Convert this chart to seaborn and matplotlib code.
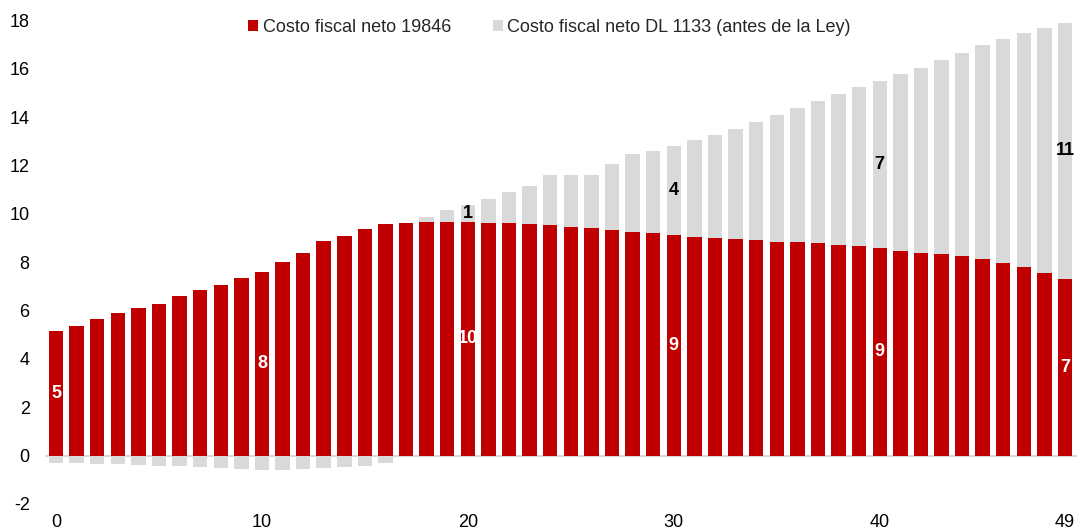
import numpy as np
import pandas as pd
import matplotlib
matplotlib.use("Agg")
import matplotlib.pyplot as plt
from matplotlib.patches import Patch
import seaborn as sns

# ---- data ----
years = list(range(50))
costo_19846 = [5.16, 5.36, 5.67, 5.88, 6.12, 6.29, 6.59, 6.83, 7.07, 7.36,
               7.58, 8.02, 8.36, 8.88, 9.07, 9.37, 9.60, 9.64, 9.65, 9.67,
               9.65, 9.64, 9.61, 9.57, 9.53, 9.46, 9.40, 9.33, 9.25, 9.19,
               9.12, 9.05, 8.99, 8.94, 8.90, 8.85, 8.82, 8.80, 8.73, 8.66,
               8.58, 8.48, 8.40, 8.32, 8.25, 8.12, 7.96, 7.79, 7.56, 7.32]
# grey segment (DL 1133 minus 19846), stacked on the red bars
dif_dl1133 = [-0.29, -0.32, -0.34, -0.36, -0.40, -0.43, -0.44, -0.48, -0.51, -0.55,
              -0.58, -0.59, -0.56, -0.51, -0.48, -0.44, -0.30, 0.00, 0.24, 0.47,
              0.71, 0.97, 1.31, 1.59, 2.06, 2.13, 2.20, 2.72, 3.21, 3.42,
              3.70, 3.99, 4.28, 4.56, 4.90, 5.22, 5.55, 5.86, 6.22, 6.57,
              6.92, 7.30, 7.65, 8.04, 8.42, 8.87, 9.28, 9.70, 10.13, 10.59]
label_idx_red = [0, 10, 20, 30, 40, 49]
label_idx_grey = [20, 30, 40, 49]
xtick_labels = ["0", "10", "20", "30", "40", "49"]
ytick_values = [-2, 0, 2, 4, 6, 8, 10, 12, 14, 16, 18]
series_names = ["Costo fiscal neto 19846", "Costo fiscal neto DL 1133 (antes de la Ley)"]

RED = "#C00000"
GREY = "#D9D9D9"
FS = 13

sns.set_theme(style="white")
plt.rcParams["font.family"] = ["Liberation Sans", "DejaVu Sans"]

red = np.array(costo_19846)
dif = np.array(dif_dl1133)
grey_top = np.where(dif > 0, red + dif, dif)

df = pd.DataFrame({"year": years, "red": red, "grey": grey_top})

fig = plt.figure(figsize=(10.77, 5.31), dpi=100)
ax = fig.add_axes([45 / 1077, 1 - 503.9 / 531, 1 - 45 / 1077, (503.9 - 20.5) / 531])

sns.barplot(data=df, x="year", y="grey", color=GREY, saturation=1, width=0.7,
            linewidth=0, ax=ax, native_scale=False)
sns.barplot(data=df, x="year", y="red", color=RED, saturation=1, width=0.7,
            linewidth=0, ax=ax, native_scale=False)

ax.axhline(0, color=GREY, lw=1.5, zorder=0.5)

for i in label_idx_red:
    ax.text(i, red[i] / 2, f"{red[i]:.0f}", ha="center", va="center",
            color="white", fontsize=FS, fontweight="bold")
for i in label_idx_grey:
    ax.text(i, red[i] + dif[i] / 2, f"{dif[i]:.0f}", ha="center", va="center",
            color="black", fontsize=FS, fontweight="bold")

ax.set_xlim(-0.534, 49.58)
ax.set_ylim(-2, 18)
ax.set_yticks(ytick_values)
ax.set_yticklabels([str(v) for v in ytick_values])
ax.set_xticks([int(t) for t in xtick_labels])
ax.set_xticklabels(xtick_labels)
ax.tick_params(axis="y", length=0, pad=11, labelsize=FS, labelcolor="black")
ax.tick_params(axis="x", length=0, pad=7, labelsize=FS, labelcolor="black")
ax.set_xlabel("")
ax.set_ylabel("")
for s in ax.spines.values():
    s.set_visible(False)
ax.grid(False)

handles = [Patch(facecolor=RED, edgecolor="none", label=series_names[0]),
           Patch(facecolor=GREY, edgecolor="none", label=series_names[1])]
fig.legend(handles=handles, loc="center", bbox_to_anchor=(549.5 / 1077, 1 - 27 / 531),
           ncol=2, frameon=False, fontsize=FS, handlelength=0.55, handleheight=0.55,
           handletextpad=0.25, columnspacing=2.3, borderpad=0)

fig.savefig("out.png", dpi=100)
